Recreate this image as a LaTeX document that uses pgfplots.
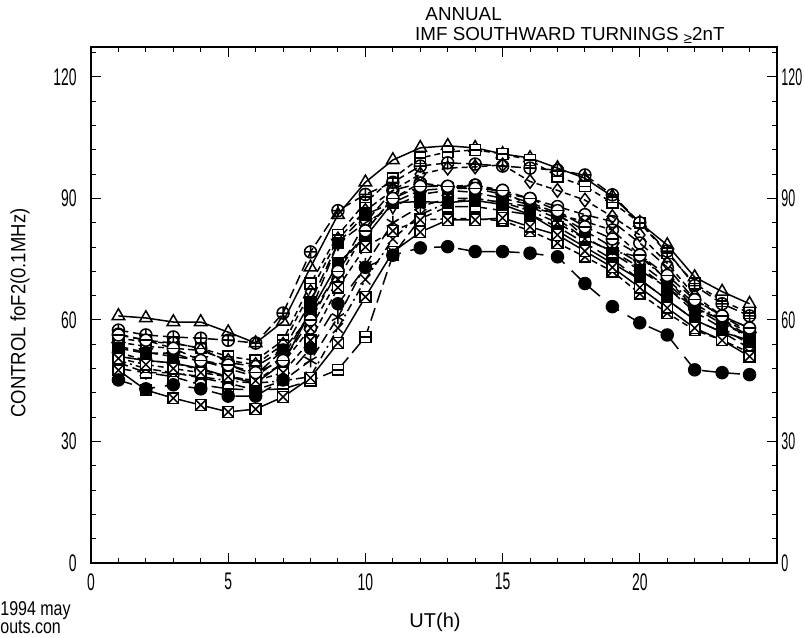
\documentclass[border=0pt]{standalone}
\usepackage{pgfplots}
\pgfplotsset{compat=1.18}
\usepackage{pgfplotstable}
\usepackage{fontspec}
\setmainfont{Liberation Sans}
\newfontfamily\condfont[FakeStretch=0.58]{Liberation Sans}
\newfontfamily\rcondfont[FakeStretch=0.52]{Liberation Sans}
\newfontfamily\labfont[FakeStretch=0.9]{Liberation Sans}
\newfontfamily\notefont[FakeStretch=0.8]{Liberation Sans}
\usetikzlibrary{plotmarks}

\pgfdeclareplotmark{boxx}{%
  \pgfpathrectangle{\pgfqpoint{-\pgfplotmarksize}{-\pgfplotmarksize}}{\pgfqpoint{2\pgfplotmarksize}{2\pgfplotmarksize}}%
  \pgfusepathqfillstroke
  \pgfpathmoveto{\pgfqpoint{-\pgfplotmarksize}{-\pgfplotmarksize}}%
  \pgfpathlineto{\pgfqpoint{\pgfplotmarksize}{\pgfplotmarksize}}%
  \pgfpathmoveto{\pgfqpoint{-\pgfplotmarksize}{\pgfplotmarksize}}%
  \pgfpathlineto{\pgfqpoint{\pgfplotmarksize}{-\pgfplotmarksize}}%
  \pgfusepathqstroke}
\pgfdeclareplotmark{boxbar}{%
  \pgfpathrectangle{\pgfqpoint{-\pgfplotmarksize}{-\pgfplotmarksize}}{\pgfqpoint{2\pgfplotmarksize}{2\pgfplotmarksize}}%
  \pgfusepathqfillstroke
  \pgfpathmoveto{\pgfqpoint{-\pgfplotmarksize}{0pt}}%
  \pgfpathlineto{\pgfqpoint{\pgfplotmarksize}{0pt}}%
  \pgfusepathqstroke}
\pgfdeclareplotmark{circbar}{%
  \pgfpathcircle{\pgfpointorigin}{\pgfplotmarksize}%
  \pgfusepathqfillstroke
  \pgfpathmoveto{\pgfqpoint{-\pgfplotmarksize}{0pt}}%
  \pgfpathlineto{\pgfqpoint{\pgfplotmarksize}{0pt}}%
  \pgfusepathqstroke}

\pgfplotstableread{
x  tri   sq    cp    dia   oc    fsq   cx    bxa   fc    ast   bd    xx    fsqb  tdn   bxb   hc
1  61    55.5  57.5  54.5  56.5  53    52    47.6  45.2  49.5  48    50    51    53.5  50.5  56.3
2  60.5  54.6  56.3  53.5  55    51.8  50    42.7  43    47    47    48    50    52    49    55
3  59.5  54.3  55.8  53    54.3  51.8  49.4  40.7  44    47    46    47    49.4  51    48    53
4  59.5  53    55.5  52.5  53    49.6  47.7  39    43    45.7  44    46    48    50    47    50
5  57    51    55    50    49.5  48.9  46    37.3  41.2  44.4  43    45    46    48    46    48.9
6  54.3  50    54.3  49    48.5  46.4  45    38    41.2  42.7  42.7  44.4  44.4  46    45    47
7  59.6  55    61.7  54    52.6  52.6  49.4  41    45.2  45    43    45    49.4  51    47    50
8  73    69    76.8  67    61    64.4  58    45.7  53    50    45    46    62    62    55    60
9  86    81    87    80    72    79    70    54.3  64    60.7  47.7  58    74    79    68    72
10 94    89    91    87    84    86    82    65.7  73    73.6  55.8  70    80.5  84    78    82
11 99.5  95    94    92    92    89    90    76.8  76    84    76    80    89    88    82    90
12 102.5 100   98    96    93.8  92    93.8  81.7  77.8  88    85    86    89.2  91    84.7  93
13 103   101.5 98.8  97.5  92.6  92.5  93    84.7  78.1  90    88    89    89    92    85    93
14 102.5 102   98.5  97.8  93.3  92.5  93.3  84.7  76.9  90    88    90    89.5  91.5  85    92.5
15 101   101   98    98.3  91.4  91    92    85.2  76.9  89    87    89    88.5  90    84.5  92
16 100   99.5  97.5  94.2  90    89    88    83    76.5  88    86    87    86    88.5  82    90
17 97.5  95.4  97    92    88    86.4  86    81    75.6  85    83    84    82    86    79    87
18 95    93    95.8  89.6  86    80.5  84.3  77    69    80    79    80    78    82    75.6  83
19 90.5  89    90.9  85.5  84.3  76.5  82.2  73    63.3  77    75    77    74    78    72    80
20 84    84    84    81    79    72.3  76    68    59.3  73    70    75.6  70    74    66.5  76
21 78.5  76.5  77    74    73    68    70    63    56.3  68    65    70    65    69    61.7  71
22 70.6  69    68.5  66    65    63    63    58    47.7  62    60    64    60    63    57.5  65
23 67    64.7  64    61    61    59    60    55    47    58    57    60    57    60    55    61
24 64    61.7  61    58    57    56    57    51    46.5  54    53    55    55    56    52    58
}\data

\tikzset{
  dA/.style={dash pattern=on 5pt off 2.5pt},
  dB/.style={dash pattern=on 3pt off 2pt},
  dC/.style={dash pattern=on 6.5pt off 3pt},
  dD/.style={dash pattern=on 4pt off 2pt on 1pt off 2pt},
  dE/.style={dash pattern=on 7pt off 5pt},
  rlab/.style={anchor=west, inner sep=0pt, xshift=2pt, font=\rcondfont\fontsize{12}{13}\selectfont},
}

\begin{document}
\begin{tikzpicture}
\useasboundingbox (-45.5pt,-37.5pt) rectangle (357pt,281.5pt);
\begin{axis}[
  name=main, at={(0pt,0pt)}, anchor=south west,
  scale only axis, width=343pt, height=258pt,
  xmin=0, xmax=25, ymin=0, ymax=127.4,
  xtick={0,5,10,15,20}, minor xtick={1,2,...,24},
  ytick={0,30,60,90,120}, minor ytick={6,12,...,126},
  tick align=inside, xtick pos=both, ytick pos=both,
  xticklabel pos=bottom, yticklabel pos=left,
  major tick length=5pt, minor tick length=2.5pt,
  tick style={black, line width=0.5pt},
  axis line style={line width=0.7pt},
  /pgf/number format/assume math mode=true,
  tick label style={font=\condfont\fontsize{12}{13}\selectfont},
  yticklabel style={anchor=east, inner sep=0pt, xshift=-7pt},
  xticklabel style={anchor=north, inner sep=0pt, yshift=-5pt},
  clip=false,
  every axis plot/.append style={line width=0.75pt, black},
]
\addplot[mark=triangle, mark size=3.6pt, mark options={solid, fill=white}] table[x=x,y=tri]{\data};
\addplot[dB, mark=boxbar, mark size=2.7pt, mark options={solid, fill=white}] table[x=x,y=sq]{\data};
\addplot[dA, mark=oplus, mark size=3pt, mark options={solid, fill=white}] table[x=x,y=cp]{\data};
\addplot[dB, mark=diamond, mark size=3.4pt, mark options={solid, fill=white}] table[x=x,y=dia]{\data};
\addplot[dA, mark=o, mark size=3pt, mark options={solid, fill=white}] table[x=x,y=oc]{\data};
\addplot[dA, mark=square*, mark size=2.7pt, mark options={solid, fill=black}] table[x=x,y=fsq]{\data};
\addplot[dB, mark=otimes, mark size=3pt, mark options={solid, fill=white}] table[x=x,y=cx]{\data};
\addplot[dA, mark=asterisk, mark size=3.5pt, mark options={solid}] table[x=x,y=ast]{\data};
\addplot[dC, mark=boxbar, mark size=2.7pt, mark options={solid, fill=white}] table[x=x,y=bd]{\data};
\addplot[dD, mark=x, mark size=3.5pt, mark options={solid}] table[x=x,y=xx]{\data};
\addplot[mark=square*, mark size=2.7pt, mark options={solid, fill=black}] table[x=x,y=fsqb]{\data};
\addplot[dA, mark=triangle, mark size=3.6pt, mark options={solid, fill=white, rotate=180}] table[x=x,y=tdn]{\data};
\addplot[dB, mark=boxx, mark size=2.7pt, mark options={solid, fill=white}] table[x=x,y=bxb]{\data};
\addplot[dA, mark=circbar, mark size=3pt, mark options={solid, fill=white}] table[x=x,y=hc]{\data};
\addplot[mark=boxx, mark size=2.7pt, mark options={solid, fill=white}] table[x=x,y=bxa]{\data};
\addplot[dE, mark=*, mark size=3pt, mark options={solid, fill=black}] table[x=x,y=fc]{\data};

\node[rlab] at (axis cs:25,0) {0};
\node[rlab] at (axis cs:25,30) {30};
\node[rlab] at (axis cs:25,60) {60};
\node[rlab] at (axis cs:25,90) {90};
\node[rlab] at (axis cs:25,120) {120};

\node[rotate=90, font=\labfont\fontsize{10.3}{12}\selectfont] at (rel axis cs:-0.1035,0.4845) {CONTROL foF2(0.1MHz)};
\node[font=\fontsize{10}{12}\selectfont] at (rel axis cs:0.5015,-0.1143) {UT(h)};
\node[anchor=west, font=\fontsize{9.4}{11}\selectfont, inner sep=0pt] at (rel axis cs:0.487,1.064) {ANNUAL};
\node[anchor=west, font=\fontsize{9.4}{11}\selectfont, inner sep=0pt] at (rel axis cs:0.472,1.0233) {IMF SOUTHWARD TURNINGS {\fontsize{7.5}{8}\selectfont\raisebox{-1.5pt}{≥}}2nT};
\node[anchor=west, font=\notefont\fontsize{10}{12}\selectfont, inner sep=0pt] at (rel axis cs:-0.1327,-0.093) {1994 may};
\node[anchor=west, font=\notefont\fontsize{10}{12}\selectfont, inner sep=0pt] at (rel axis cs:-0.1327,-0.124) {outs.con};
\end{axis}
\end{tikzpicture}
\end{document}
